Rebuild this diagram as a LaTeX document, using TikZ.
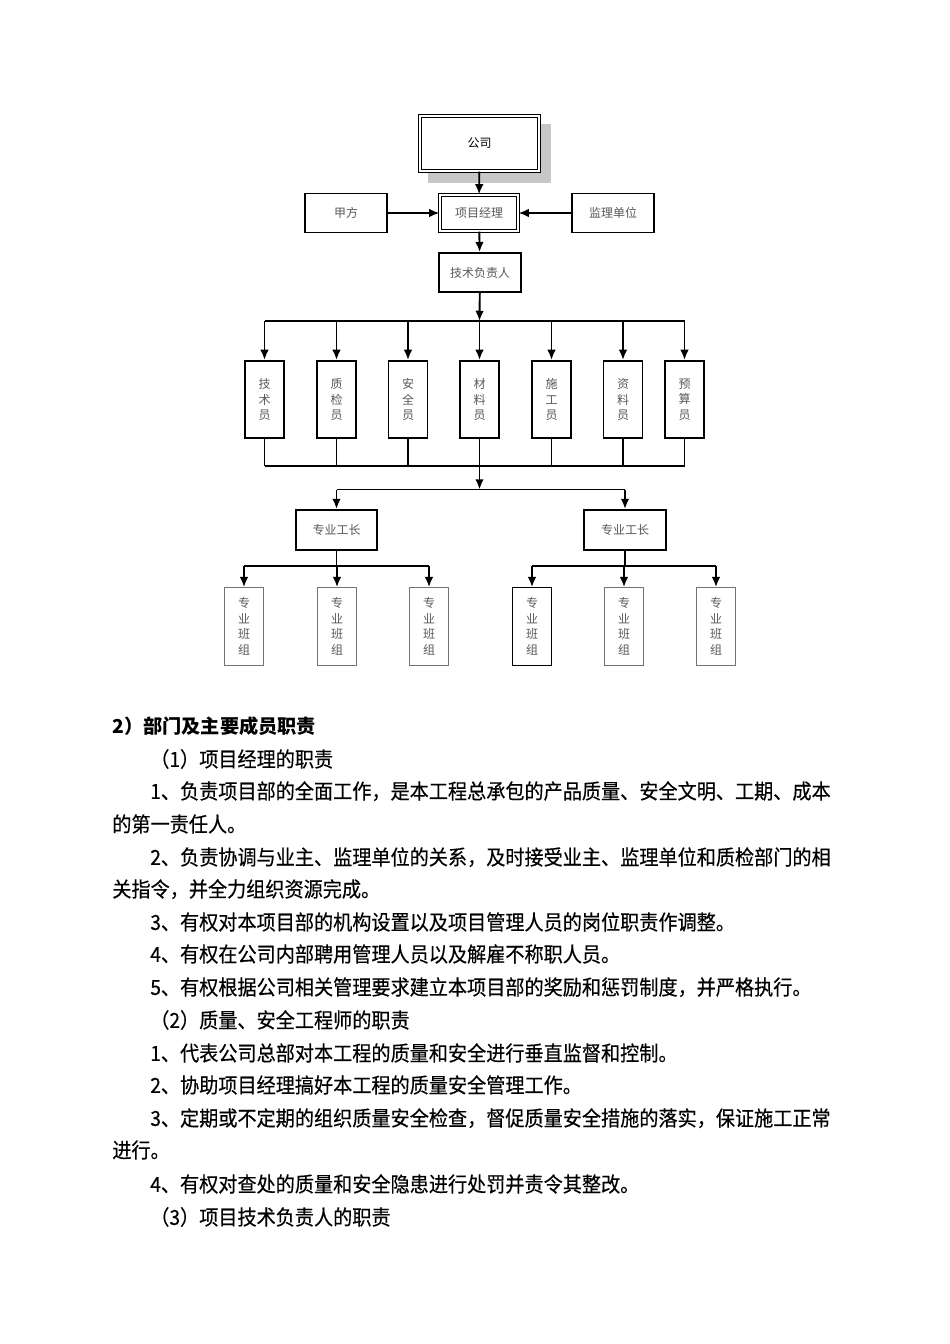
\documentclass[tikz,border=0pt]{standalone}
\usepackage{fontspec}
\newfontfamily\cjk{Noto Sans CJK SC}
\newfontfamily\cjkbody[FakeStretch=0.92,FakeBold=0.4]{Noto Sans CJK SC}
\usepackage{tikz}
\usetikzlibrary{arrows.meta}
\usetikzlibrary{calc,backgrounds}
\tikzset{
  box/.style={draw=black, line width=1pt, fill=white, text=black!65, inner sep=0pt,
    align=center, font=\cjk\fontsize{7.5}{9.7}\selectfont},
  dbox/.style={box, double, line width=0.6pt, double distance=1.2pt},
  widebox/.style={box, minimum width=50.9pt, minimum height=24.5pt},
  tallbox/.style={box, minimum width=24.6pt, minimum height=48.4pt},
  teambox/.style={tallbox, line width=0.8pt},
  link/.style={black, line width=1.2pt},
  bodytext/.style={anchor=west, inner sep=0pt, text height=11.44pt, text depth=1.56pt,
    font=\cjkbody\fontsize{13}{15}\selectfont}
}

\begin{document}
\begin{tikzpicture}[x=0.625pt, y=-0.625pt, >={Latex[length=6.4pt,width=5.4pt]}]
\useasboundingbox (0,0) rectangle (950,1344);

% top of the chart
\node[dbox, text=black, minimum width=74.5pt, minimum height=34.5pt] (company) at (479.5,143.5) {公司};
\begin{scope}[on background layer]
  \fill[black!22] ($(company.north west)+(9,9)$) rectangle ($(company.south east)+(11,11)$);
\end{scope}
\node[dbox, minimum width=48.9pt, minimum height=22.6pt] (pm) at (479,213) {项目经理};
\node[widebox] (owner) at (346,213) {甲方};
\node[widebox] (supervisor) at (613,213) {监理单位};
\node[widebox] (techlead) at (480,272.5) {技术负责人};

\draw[link,->] (company) -- (pm);
\draw[link,->] (owner) -- (pm);
\draw[link,->] (supervisor) -- (pm);
\draw[link,->] (pm) -- (techlead);

% staff row
\foreach \x/\txt [count=\i] in {264.5/{技\\术\\员}, 336.5/{质\\检\\员}, 408/{安\\全\\员}, 479.5/{材\\料\\员},
    551.5/{施\\工\\员}, 623/{资\\料\\员}, 684.5/{预\\算\\员}} {
  \node[tallbox] (staff\i) at (\x,399.5) {\txt};
}
\coordinate (bustop) at (479.5,321);
\coordinate (busmid) at (479.5,466);
\coordinate (busfore) at (479.5,489.5);
\draw[link,->] (techlead) -- (bustop);
\draw[link] (staff1.north |- bustop) -- (staff7.north |- bustop);
\draw[link] (staff1.south |- busmid) -- (staff7.south |- busmid);
\foreach \i in {1,...,7} {
  \draw[link,->] (staff\i.north |- bustop) -- (staff\i.north);
  \draw[link] (staff\i.south) -- (staff\i.south |- busmid);
}
\draw[link,->] (busmid) -- (busfore);

% foremen and teams
\node[box, minimum width=50.9pt, minimum height=25.25pt] (foreman1) at (336.5,530) {专业工长};
\node[box, minimum width=50.9pt, minimum height=25.25pt] (foreman2) at (625,530) {专业工长};
\draw[link] (foreman1.north |- busfore) -- (foreman2.north |- busfore);
\draw[link,->] (foreman1.north |- busfore) -- (foreman1.north);
\draw[link,->] (foreman2.north |- busfore) -- (foreman2.north);

\foreach \x/\col [count=\i] in {244/black!55, 337/black!55, 429/black!55, 532/black, 624/black!55, 716/black!55} {
  \node[teambox, draw=\col] (team\i) at (\x,626.5) {专\\业\\班\\组};
}
\coordinate (busleft) at (336.5,566);
\coordinate (busright) at (625,566);
\draw[link] (foreman1) -- (busleft);
\draw[link] (foreman2) -- (busright);
\draw[link] (team1.north |- busleft) -- (team3.north |- busleft);
\draw[link] (team4.north |- busright) -- (team6.north |- busright);
\foreach \i in {1,2,3} \draw[link,->] (team\i.north |- busleft) -- (team\i.north);
\foreach \i in {4,5,6} \draw[link,->] (team\i.north |- busright) -- (team\i.north);

% text below
\node[bodytext, font=\cjk\bfseries\fontsize{12}{14}\selectfont] (head) at (112,726) {2）部门及主要成员职责};
\foreach \yy/\xx/\txt [count=\i] in {
  759/150/（1）项目经理的职责,
  791/150/1、负责项目部的全面工作，是本工程总承包的产品质量、安全文明、工期、成本,
  824/112/的第一责任人。,
  857/150/2、负责协调与业主、监理单位的关系，及时接受业主、监理单位和质检部门的相,
  889/112/关指令，并全力组织资源完成。,
  922/150/3、有权对本项目部的机构设置以及项目管理人员的岗位职责作调整。,
  954/150/4、有权在公司内部聘用管理人员以及解雇不称职人员。,
  987/150/5、有权根据公司相关管理要求建立本项目部的奖励和惩罚制度，并严格执行。,
  1020/150/（2）质量、安全工程师的职责,
  1053/150/1、代表公司总部对本工程的质量和安全进行垂直监督和控制。,
  1085/150/2、协助项目经理搞好本工程的质量安全管理工作。,
  1118/150/3、定期或不定期的组织质量安全检查，督促质量安全措施的落实，保证施工正常,
  1150/112/进行。,
  1184/150/4、有权对查处的质量和安全隐患进行处罚并责令其整改。,
  1217/150/（3）项目技术负责人的职责} {
  \node[bodytext] (line\i) at (\xx,\yy) {\txt};
}
\end{tikzpicture}
\end{document}
